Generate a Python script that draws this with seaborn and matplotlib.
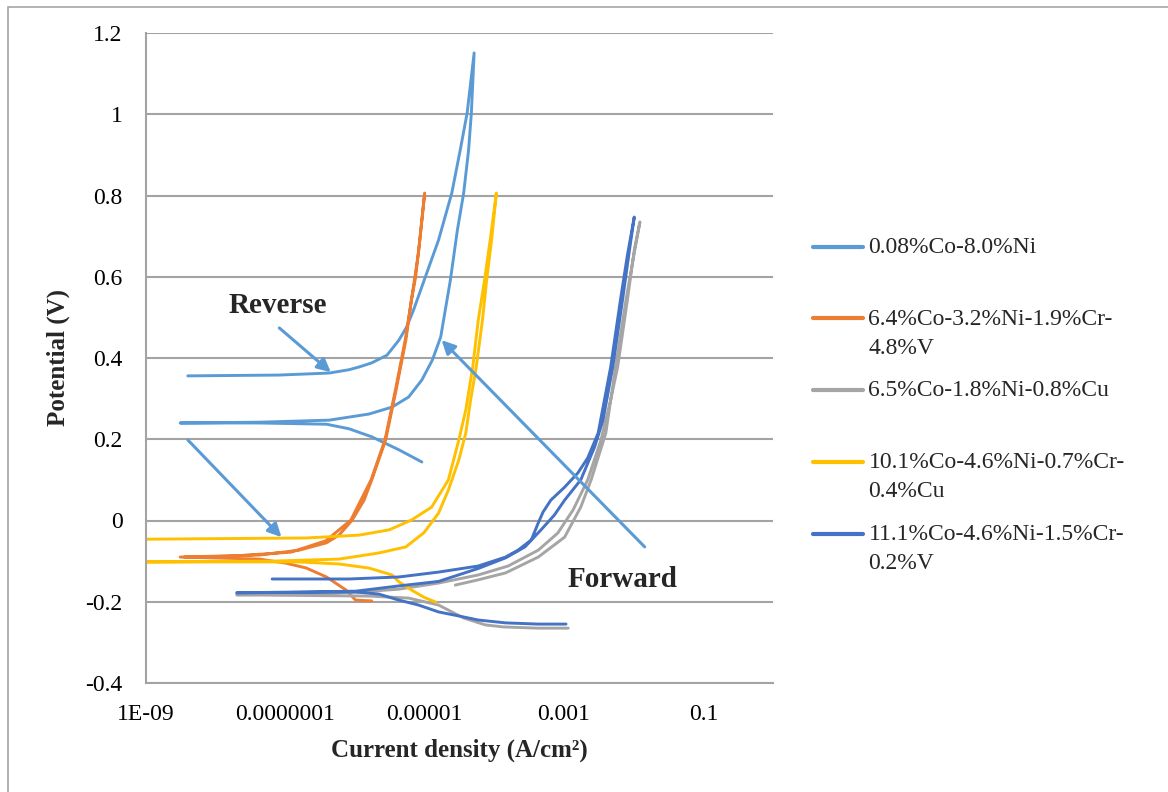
import numpy as np
import pandas as pd
import matplotlib
matplotlib.use("Agg")
import matplotlib.pyplot as plt
import seaborn as sns
from matplotlib.lines import Line2D
from matplotlib.legend_handler import HandlerLine2D
from matplotlib.patches import Rectangle
from matplotlib.ticker import FixedLocator, NullLocator

# ---------------- data ----------------
alloys = ["0.08%Co-8.0%Ni", "6.4%Co-3.2%Ni-1.9%Cr-4.8%V", "6.5%Co-1.8%Ni-0.8%Cu",
          "10.1%Co-4.6%Ni-0.7%Cr-0.4%Cu", "11.1%Co-4.6%Ni-1.5%Cr-0.2%V"]
legend_labels = ["0.08%Co-8.0%Ni\n", "6.4%Co-3.2%Ni-1.9%Cr-\n4.8%V", "6.5%Co-1.8%Ni-0.8%Cu\n",
                 "10.1%Co-4.6%Ni-0.7%Cr-\n0.4%Cu", "11.1%Co-4.6%Ni-1.5%Cr-\n0.2%V"]
colors = ["#5B9BD5", "#ED7D31", "#A5A5A5", "#FFC000", "#4472C4"]

# current density (A/cm2) and potential (V), forward scan followed by reverse scan
i_coni = [9.12e-6, 4.27e-6, 1.74e-6, 8.13e-7, 3.89e-7, 4.27e-8, 3.09e-9,
          4.27e-8, 4.27e-7, 1.58e-6, 3.39e-6, 5.89e-6, 9.12e-6, 1.29e-5, 1.70e-5, 2.34e-5,
          2.95e-5, 3.63e-5, 4.27e-5, 4.68e-5, 5.13e-5,
          4.07e-5, 3.24e-5, 2.45e-5, 1.58e-5, 1.02e-5, 6.92e-6, 5.50e-6, 4.27e-6, 2.88e-6,
          1.74e-6, 1.15e-6, 8.13e-7, 4.27e-7, 8.13e-8, 3.98e-9]
e_coni = [0.144, 0.174, 0.206, 0.226, 0.237, 0.240, 0.240,
          0.242, 0.247, 0.262, 0.279, 0.304, 0.346, 0.395, 0.452, 0.592,
          0.715, 0.806, 0.912, 1.003, 1.151,
          1.003, 0.912, 0.806, 0.690, 0.599, 0.518, 0.476, 0.444, 0.407,
          0.388, 0.378, 0.371, 0.363, 0.358, 0.356]

i_cov = [1.74e-6, 1.02e-6, 7.41e-7, 3.89e-7, 2.0e-7, 1.02e-7, 4.27e-8, 3.09e-9,
         4.27e-8, 1.58e-7, 3.89e-7, 5.89e-7, 9.12e-7, 1.35e-6, 1.74e-6, 2.75e-6, 3.89e-6,
         5.37e-6, 6.46e-6, 7.41e-6, 8.51e-6, 1.0e-5,
         8.13e-6, 6.46e-6, 5.25e-6, 3.80e-6, 2.69e-6, 1.70e-6, 8.71e-7, 3.80e-7, 1.20e-7,
         1.58e-8, 3.55e-9]
e_cov = [-0.198, -0.196, -0.171, -0.139, -0.117, -0.105, -0.095, -0.090,
         -0.085, -0.073, -0.055, -0.036, 0.001, 0.050, 0.100, 0.198, 0.321,
         0.444, 0.543, 0.599, 0.690, 0.806,
         0.658, 0.543, 0.444, 0.321, 0.198, 0.100, 0.001, -0.050, -0.078,
         -0.088, -0.090]

i_cocu = [1.15e-3, 4.27e-4, 1.35e-4, 7.41e-5, 3.63e-5, 1.58e-5, 5.89e-6, 1.58e-6, 2.0e-8,
          1.58e-7, 1.15e-6, 4.27e-6, 1.58e-5, 5.89e-5, 1.58e-4, 4.27e-4, 8.13e-4, 1.35e-3,
          2.19e-3, 3.39e-3, 4.68e-3, 5.89e-3, 8.13e-3, 1.02e-2, 1.23e-2,
          9.77e-3, 7.76e-3, 5.50e-3, 3.98e-3, 2.45e-3, 1.74e-3, 1.02e-3, 4.27e-4, 1.45e-4,
          5.89e-5, 2.75e-5]
e_cocu = [-0.265, -0.265, -0.262, -0.257, -0.240, -0.208, -0.191, -0.186, -0.183,
          -0.181, -0.176, -0.169, -0.154, -0.134, -0.112, -0.073, -0.031, 0.026,
          0.100, 0.198, 0.297, 0.378, 0.543, 0.666, 0.735,
          0.641, 0.543, 0.378, 0.215, 0.100, 0.033, -0.041, -0.090, -0.129,
          -0.146, -0.159]

i_cocrcu = [1.45e-5, 9.77e-6, 6.46e-6, 4.27e-6, 3.39e-6, 1.58e-6, 5.89e-7, 1.58e-7, 1.02e-9,
            6.46e-8, 5.89e-7, 2.19e-6, 5.37e-6, 9.77e-6, 1.58e-5, 2.19e-5, 3.09e-5, 3.89e-5,
            4.57e-5, 5.50e-5, 6.76e-5, 7.76e-5, 9.12e-5, 1.07e-4,
            8.71e-5, 7.24e-5, 5.89e-5, 4.90e-5, 3.89e-5, 3.09e-5, 2.19e-5, 1.26e-5, 6.46e-6,
            3.09e-6, 1.15e-6, 2.0e-7, 1.02e-9]
e_cocrcu = [-0.201, -0.189, -0.171, -0.151, -0.134, -0.117, -0.107, -0.102, -0.102,
            -0.100, -0.095, -0.080, -0.065, -0.030, 0.018, 0.075, 0.149, 0.215,
            0.297, 0.378, 0.494, 0.592, 0.690, 0.806,
            0.690, 0.592, 0.494, 0.378, 0.272, 0.198, 0.100, 0.033, 0.001,
            -0.023, -0.036, -0.043, -0.046]

i_cocrv = [1.07e-3, 4.27e-4, 1.45e-4, 5.89e-5, 3.09e-5, 1.58e-5, 8.13e-6, 4.27e-6, 2.19e-6,
           1.02e-6, 2.0e-8,
           1.58e-7, 1.02e-6, 4.27e-6, 1.58e-5, 5.89e-5, 1.45e-4, 2.75e-4, 4.68e-4, 7.24e-4,
           1.02e-3, 1.74e-3, 2.75e-3, 3.63e-3, 5.01e-3, 6.92e-3, 8.71e-3, 1.02e-2,
           8.13e-3, 6.46e-3, 4.68e-3, 3.09e-3, 2.19e-3, 1.58e-3, 1.02e-3, 6.46e-4, 5.01e-4,
           4.27e-4, 3.39e-4, 2.19e-4, 1.45e-4, 5.89e-5, 1.58e-5, 4.27e-6, 8.13e-7, 6.46e-8]
e_cocrv = [-0.255, -0.255, -0.252, -0.245, -0.235, -0.225, -0.208, -0.196, -0.181,
           -0.176, -0.178,
           -0.176, -0.174, -0.161, -0.150, -0.118, -0.092, -0.065, -0.023, 0.013,
           0.050, 0.100, 0.181, 0.247, 0.378, 0.543, 0.666, 0.747,
           0.653, 0.543, 0.378, 0.215, 0.154, 0.117, 0.082, 0.050, 0.021,
           -0.006, -0.048, -0.073, -0.090, -0.112, -0.127, -0.139, -0.144, -0.144]

currents = [i_coni, i_cov, i_cocu, i_cocrcu, i_cocrv]
potentials = [e_coni, e_cov, e_cocu, e_cocrcu, e_cocrv]

x_ticks = [1e-9, 1e-7, 1e-5, 1e-3, 1e-1]
x_tick_labels = ["1E-09", "0.0000001", "0.00001", "0.001", "0.1"]
y_ticks = [-0.4, -0.2, 0.0, 0.2, 0.4, 0.6, 0.8, 1.0, 1.2]
y_tick_labels = ["-0.4", "-0.2", "0", "0.2", "0.4", "0.6", "0.8", "1", "1.2"]

# annotation arrows: (tail, head) in data coordinates
arrow_reverse_1 = ((8.2e-8, 0.474), (4.5e-7, 0.365))
arrow_reverse_2 = ((4.0e-9, 0.198), (8.8e-8, -0.041))
arrow_forward = ((1.44e-2, -0.065), (1.75e-5, 0.444))
label_reverse = (7.8e-8, 0.530)
label_forward = (7.0e-3, -0.145)

# ---------------- frame ----------------
rows = []
for name, xs, ys in zip(alloys, currents, potentials):
    for k, (xv, yv) in enumerate(zip(xs, ys)):
        rows.append({"alloy": name, "step": k, "current": xv, "potential": yv})
df = pd.DataFrame(rows)

sns.set_style("white")
plt.rcParams["font.family"] = ["Liberation Serif", "DejaVu Serif"]

fig = plt.figure(figsize=(11.68, 7.92), dpi=100)
ax = fig.add_axes([146 / 1168, 1 - 683 / 792, (773 - 146) / 1168, (683 - 33) / 792])
ax.set_xscale("log")

grid_c = "#a3a3a3"
ax.set_axisbelow(True)
ax.yaxis.grid(True, color=grid_c, lw=1.5)
ax.xaxis.grid(False)

sns.lineplot(data=df, x="current", y="potential", hue="alloy", hue_order=alloys,
             palette=colors, sort=False, estimator=None, linewidth=2.1, ax=ax,
             legend=False)

ax.set_xlim(1e-9, 1)
ax.set_ylim(-0.4, 1.2)
ax.xaxis.set_major_locator(FixedLocator(x_ticks))
ax.xaxis.set_minor_locator(NullLocator())
ax.set_xticklabels(x_tick_labels)
ax.set_yticks(y_ticks)
ax.set_yticklabels(y_tick_labels)

for s in ["top", "right"]:
    ax.spines[s].set_visible(False)
for s in ["left", "bottom"]:
    ax.spines[s].set_color(grid_c)
    ax.spines[s].set_linewidth(1.5)

ax.tick_params(axis="both", which="major", direction="out", length=5.8, width=1.5,
               color=grid_c, labelsize=17, labelcolor="black")
ax.tick_params(axis="y", pad=11)
ax.tick_params(axis="x", pad=9)

ax.set_xlabel("Current density (A/cm²)", fontsize=18, fontweight="bold")
ax.set_ylabel("Potential (V)", fontsize=18, fontweight="bold")
ax.xaxis.set_label_coords(0.5, -0.085)
ax.yaxis.set_label_coords(-0.122, 0.5)

arrow_c = "#5B9BD5"
for tail, head in [arrow_reverse_1, arrow_reverse_2, arrow_forward]:
    ax.annotate("", xy=head, xytext=tail,
                arrowprops=dict(arrowstyle="-|>", color=arrow_c, lw=2.2,
                                mutation_scale=20, shrinkA=0, shrinkB=0))
ax.text(*label_reverse, "Reverse", fontsize=21, fontweight="bold", ha="center", va="center")
ax.text(*label_forward, "Forward", fontsize=21, fontweight="bold", ha="center", va="center")


class HandlerTop(HandlerLine2D):
    def __init__(self, shift, **kw):
        super().__init__(**kw)
        self.shift = shift

    def create_artists(self, legend, orig_handle, xdescent, ydescent, width, height,
                       fontsize, trans):
        arts = super().create_artists(legend, orig_handle, xdescent, ydescent, width,
                                      height, fontsize, trans)
        for a in arts:
            a.set_ydata(np.asarray(a.get_ydata()) + self.shift)
        return arts


handles = [Line2D([], [], color=c, lw=3) for c in colors]
hmap = {h: HandlerTop(10.8) for h in handles}
leg = fig.legend(handles, legend_labels, loc="upper left",
                 bbox_to_anchor=(813 / 1168, 1 - 237 / 792), frameon=False,
                 fontsize=17, handlelength=2.1, handletextpad=0.25, borderpad=0,
                 borderaxespad=0, labelspacing=0.92, handler_map=hmap,
                 prop={"family": ["Liberation Serif"], "size": 17})
for t in leg.get_texts():
    t.set_linespacing(1.5)

fig.patches.append(Rectangle((8 / 1168, -0.05), 1.2, 1 - 7 / 792 + 0.05,
                             transform=fig.transFigure, fill=False,
                             edgecolor="#a6a6a6", lw=1.2))

fig.savefig("out.png", dpi=100)
